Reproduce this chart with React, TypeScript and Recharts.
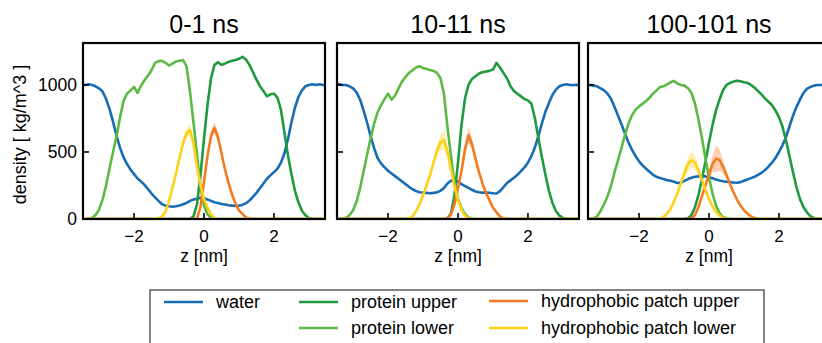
import React from 'react';
import { ComposedChart, Line, Area, XAxis, YAxis } from 'recharts';

// z grid [nm]
const Z = [
  -3.5, -3.4, -3.3, -3.2, -3.1, -3.0, -2.9, -2.8, -2.7, -2.6,
  -2.5, -2.4, -2.3, -2.2, -2.1, -2.0, -1.9, -1.8, -1.7, -1.6,
  -1.5, -1.4, -1.3, -1.2, -1.1, -1.0, -0.9, -0.8, -0.7, -0.6,
  -0.5, -0.4, -0.3, -0.2, -0.1, 0.0, 0.1, 0.2, 0.3, 0.4,
  0.5, 0.6, 0.7, 0.8, 0.9, 1.0, 1.1, 1.2, 1.3, 1.4,
  1.5, 1.6, 1.7, 1.8, 1.9, 2.0, 2.1, 2.2, 2.3, 2.4,
  2.5, 2.6, 2.7, 2.8, 2.9, 3.0, 3.1, 3.2, 3.3, 3.4,
  3.5,
];

// ---- 0-1 ns ----
const P1_WATER = [
  1000, 1000, 1005, 1000, 990, 975, 950, 895, 820, 725,
  620, 530, 460, 410, 368, 335, 302, 280, 255, 222,
  190, 162, 135, 110, 100, 95, 92, 95, 100, 110,
  120, 135, 145, 150, 158, 155, 145, 135, 125, 120,
  112, 108, 102, 100, 98, 100, 105, 118, 138, 165,
  195, 230, 265, 300, 325, 350, 375, 420, 490, 595,
  720, 830, 910, 960, 990, 1000, 1005, 1000, 1005, 1000,
  1000,
];
const P1_UPPER = [
  0, 0, 0, 0, 0, 0, 0, 0, 0, 0,
  0, 0, 0, 0, 0, 0, 0, 0, 0, 0,
  0, 0, 0, 0, 0, 0, 0, 0, 0, 0,
  0, 0, 20, 110, 330, 600, 850, 1050, 1150, 1170,
  1150, 1160, 1172, 1180, 1187, 1195, 1210, 1190, 1150, 1095,
  1040, 990, 955, 915, 930, 935, 905, 815, 645, 475,
  335, 210, 125, 62, 28, 8, 2, 0, 0, 0,
  0,
];
const P1_LOWER = [
  0, 0, 2, 10, 30, 70, 145, 250, 380, 500,
  620, 760, 880, 935, 960, 985, 940, 995, 1035, 1070,
  1110, 1165, 1178, 1180, 1165, 1145, 1160, 1175, 1180, 1185,
  1140, 950, 720, 480, 240, 100, 35, 10, 2, 0,
  0, 0, 0, 0, 0, 0, 0, 0, 0, 0,
  0, 0, 0, 0, 0, 0, 0, 0, 0, 0,
  0, 0, 0, 0, 0, 0, 0, 0, 0, 0,
  0,
];
const P1_HUP = [
  0, 0, 0, 0, 0, 0, 0, 0, 0, 0,
  0, 0, 0, 0, 0, 0, 0, 0, 0, 0,
  0, 0, 0, 0, 0, 0, 0, 0, 0, 0,
  0, 0, 0, 5, 90, 280, 470, 620, 680, 610,
  490, 370, 270, 185, 115, 65, 38, 12, 3, 0,
  0, 0, 0, 0, 0, 0, 0, 0, 0, 0,
  0, 0, 0, 0, 0, 0, 0, 0, 0, 0,
  0,
];
const P1_HUP_SPREAD = [
  0, 0, 0, 0, 0, 0, 0, 0, 0, 0,
  0, 0, 0, 0, 0, 0, 0, 0, 0, 0,
  0, 0, 0, 0, 0, 0, 0, 0, 0, 0,
  0, 0, 0, 0, 8, 15, 25, 35, 45, 35,
  25, 15, 10, 5, 0, 0, 0, 0, 0, 0,
  0, 0, 0, 0, 0, 0, 0, 0, 0, 0,
  0, 0, 0, 0, 0, 0, 0, 0, 0, 0,
  0,
];
const P1_HLOW = [
  0, 0, 0, 0, 0, 0, 0, 0, 0, 0,
  0, 0, 0, 0, 0, 0, 0, 0, 0, 0,
  0, 0, 5, 20, 55, 135, 235, 340, 455, 565,
  640, 665, 560, 390, 250, 150, 85, 35, 8, 0,
  0, 0, 0, 0, 0, 0, 0, 0, 0, 0,
  0, 0, 0, 0, 0, 0, 0, 0, 0, 0,
  0, 0, 0, 0, 0, 0, 0, 0, 0, 0,
  0,
];
const P1_HLOW_SPREAD = [
  0, 0, 0, 0, 0, 0, 0, 0, 0, 0,
  0, 0, 0, 0, 0, 0, 0, 0, 0, 0,
  0, 0, 0, 0, 0, 0, 5, 10, 15, 25,
  35, 40, 30, 15, 8, 0, 0, 0, 0, 0,
  0, 0, 0, 0, 0, 0, 0, 0, 0, 0,
  0, 0, 0, 0, 0, 0, 0, 0, 0, 0,
  0, 0, 0, 0, 0, 0, 0, 0, 0, 0,
  0,
];

// ---- 10-11 ns ----
const P2_WATER = [
  1000, 1005, 1000, 1000, 990, 975, 945, 890, 810, 720,
  620, 530, 455, 415, 385, 360, 340, 320, 300, 280,
  260, 240, 222, 208, 200, 198, 195, 192, 195, 200,
  210, 232, 265, 285, 290, 278, 260, 245, 232, 218,
  205, 200, 197, 198, 196, 192, 190, 208, 238, 268,
  288, 308, 330, 358, 385, 420, 470, 535, 620, 715,
  800, 865, 925, 965, 990, 1000, 1005, 1000, 1000, 1002,
  1000,
];
const P2_UPPER = [
  0, 0, 0, 0, 0, 0, 0, 0, 0, 0,
  0, 0, 0, 0, 0, 0, 0, 0, 0, 0,
  0, 0, 0, 0, 0, 0, 0, 0, 0, 0,
  0, 0, 5, 40, 180, 420, 700, 900, 1000, 1045,
  1065, 1085, 1095, 1100, 1105, 1115, 1165, 1130, 1090, 1050,
  990, 955, 935, 915, 895, 885, 860, 750, 600, 460,
  330, 210, 120, 60, 25, 8, 2, 0, 0, 0,
  0,
];
const P2_LOWER = [
  0, 0, 3, 10, 30, 65, 130, 230, 355, 480,
  600, 710, 795, 850, 895, 935, 890, 920, 975, 1025,
  1060, 1090, 1110, 1130, 1140, 1125, 1120, 1112, 1105, 1090,
  1050, 930, 680, 470, 260, 150, 80, 38, 12, 3,
  0, 0, 0, 0, 0, 0, 0, 0, 0, 0,
  0, 0, 0, 0, 0, 0, 0, 0, 0, 0,
  0, 0, 0, 0, 0, 0, 0, 0, 0, 0,
  0,
];
const P2_HUP = [
  0, 0, 0, 0, 0, 0, 0, 0, 0, 0,
  0, 0, 0, 0, 0, 0, 0, 0, 0, 0,
  0, 0, 0, 0, 0, 0, 0, 0, 0, 0,
  0, 0, 5, 35, 110, 230, 360, 520, 625, 560,
  450, 350, 265, 195, 140, 85, 50, 20, 5, 0,
  0, 0, 0, 0, 0, 0, 0, 0, 0, 0,
  0, 0, 0, 0, 0, 0, 0, 0, 0, 0,
  0,
];
const P2_HUP_SPREAD = [
  0, 0, 0, 0, 0, 0, 0, 0, 0, 0,
  0, 0, 0, 0, 0, 0, 0, 0, 0, 0,
  0, 0, 0, 0, 0, 0, 0, 0, 0, 0,
  0, 0, 0, 5, 10, 15, 30, 45, 60, 40,
  25, 15, 8, 0, 0, 0, 0, 0, 0, 0,
  0, 0, 0, 0, 0, 0, 0, 0, 0, 0,
  0, 0, 0, 0, 0, 0, 0, 0, 0, 0,
  0,
];
const P2_HLOW = [
  0, 0, 0, 0, 0, 0, 0, 0, 0, 0,
  0, 0, 0, 0, 0, 0, 0, 0, 0, 0,
  0, 5, 20, 60, 110, 175, 250, 330, 420, 510,
  570, 590, 500, 370, 245, 140, 70, 25, 5, 0,
  0, 0, 0, 0, 0, 0, 0, 0, 0, 0,
  0, 0, 0, 0, 0, 0, 0, 0, 0, 0,
  0, 0, 0, 0, 0, 0, 0, 0, 0, 0,
  0,
];
const P2_HLOW_SPREAD = [
  0, 0, 0, 0, 0, 0, 0, 0, 0, 0,
  0, 0, 0, 0, 0, 0, 0, 0, 0, 0,
  0, 0, 0, 0, 0, 5, 10, 15, 25, 40,
  60, 70, 45, 25, 10, 0, 0, 0, 0, 0,
  0, 0, 0, 0, 0, 0, 0, 0, 0, 0,
  0, 0, 0, 0, 0, 0, 0, 0, 0, 0,
  0, 0, 0, 0, 0, 0, 0, 0, 0, 0,
  0,
];

// ---- 100-101 ns ----
const P3_WATER = [
  1000, 1000, 995, 990, 975, 960, 935, 895, 835, 770,
  705, 635, 570, 515, 470, 430, 400, 375, 352, 330,
  315, 305, 298, 290, 285, 278, 268, 272, 285, 298,
  308, 315, 318, 320, 318, 310, 305, 295, 288, 282,
  278, 275, 272, 270, 275, 285, 295, 305, 315, 330,
  345, 365, 390, 420, 455, 500, 550, 610, 690, 770,
  835, 890, 940, 970, 985, 995, 1000, 1000, 1002, 1000,
  1000,
];
const P3_UPPER = [
  0, 0, 0, 0, 0, 0, 0, 0, 0, 0,
  0, 0, 0, 0, 0, 0, 0, 0, 0, 0,
  0, 0, 0, 0, 0, 0, 0, 0, 0, 5,
  30, 90, 180, 300, 430, 570, 700, 810, 890, 960,
  1000, 1015, 1025, 1032, 1028, 1020, 1015, 1000, 980, 955,
  930, 900, 875, 850, 810, 760, 690, 590, 470, 350,
  240, 150, 90, 50, 22, 8, 2, 0, 0, 0,
  0,
];
const P3_LOWER = [
  0, 0, 5, 20, 60, 110, 170, 250, 350, 440,
  535, 630, 715, 775, 815, 840, 860, 880, 905, 935,
  960, 985, 990, 1005, 1020, 1030, 1010, 1000, 995, 975,
  940, 860, 740, 600, 450, 310, 190, 100, 45, 15,
  5, 0, 0, 0, 0, 0, 0, 0, 0, 0,
  0, 0, 0, 0, 0, 0, 0, 0, 0, 0,
  0, 0, 0, 0, 0, 0, 0, 0, 0, 0,
  0,
];
const P3_HUP = [
  0, 0, 0, 0, 0, 0, 0, 0, 0, 0,
  0, 0, 0, 0, 0, 0, 0, 0, 0, 0,
  0, 0, 0, 0, 0, 0, 0, 0, 0, 0,
  5, 30, 90, 170, 250, 330, 410, 450, 440, 390,
  330, 260, 200, 145, 100, 65, 40, 20, 8, 0,
  0, 0, 0, 0, 0, 0, 0, 0, 0, 0,
  0, 0, 0, 0, 0, 0, 0, 0, 0, 0,
  0,
];
const P3_HUP_SPREAD = [
  0, 0, 0, 0, 0, 0, 0, 0, 0, 0,
  0, 0, 0, 0, 0, 0, 0, 0, 0, 0,
  0, 0, 0, 0, 0, 0, 0, 0, 0, 0,
  0, 5, 10, 15, 20, 35, 60, 100, 80, 50,
  30, 15, 8, 0, 0, 0, 0, 0, 0, 0,
  0, 0, 0, 0, 0, 0, 0, 0, 0, 0,
  0, 0, 0, 0, 0, 0, 0, 0, 0, 0,
  0,
];
const P3_HLOW = [
  0, 0, 0, 0, 0, 0, 0, 0, 0, 0,
  0, 0, 0, 0, 0, 0, 0, 0, 0, 0,
  0, 3, 15, 40, 75, 130, 195, 270, 345, 410,
  440, 420, 360, 290, 215, 150, 95, 55, 25, 10,
  0, 0, 0, 0, 0, 0, 0, 0, 0, 0,
  0, 0, 0, 0, 0, 0, 0, 0, 0, 0,
  0, 0, 0, 0, 0, 0, 0, 0, 0, 0,
  0,
];
const P3_HLOW_SPREAD = [
  0, 0, 0, 0, 0, 0, 0, 0, 0, 0,
  0, 0, 0, 0, 0, 0, 0, 0, 0, 0,
  0, 0, 0, 0, 0, 0, 10, 20, 35, 55,
  60, 50, 30, 15, 8, 0, 0, 0, 0, 0,
  0, 0, 0, 0, 0, 0, 0, 0, 0, 0,
  0, 0, 0, 0, 0, 0, 0, 0, 0, 0,
  0, 0, 0, 0, 0, 0, 0, 0, 0, 0,
  0,
];

const TITLES = ['0-1 ns', '10-11 ns', '100-101 ns'];
const X_TICKS = [-2, 0, 2];
const Y_TICKS = [0, 500, 1000];
const X_LABEL = 'z [nm]';
const Y_LABEL = 'density [ kg/m^3 ]';

const SERIES = [
  { key: 'water', name: 'water', color: '#176db4' },
  { key: 'upper', name: 'protein upper', color: '#1f9a3e' },
  { key: 'lower', name: 'protein lower', color: '#5cba44' },
  { key: 'hup', name: 'hydrophobic patch upper', color: '#f47b20' },
  { key: 'hlow', name: 'hydrophobic patch lower', color: '#fcd116' },
];

const PANEL_DATA = [
  { water: P1_WATER, upper: P1_UPPER, lower: P1_LOWER, hup: P1_HUP, hlow: P1_HLOW, hupS: P1_HUP_SPREAD, hlowS: P1_HLOW_SPREAD },
  { water: P2_WATER, upper: P2_UPPER, lower: P2_LOWER, hup: P2_HUP, hlow: P2_HLOW, hupS: P2_HUP_SPREAD, hlowS: P2_HLOW_SPREAD },
  { water: P3_WATER, upper: P3_UPPER, lower: P3_LOWER, hup: P3_HUP, hlow: P3_HLOW, hupS: P3_HUP_SPREAD, hlowS: P3_HLOW_SPREAD },
];

const FONT = '"Liberation Sans", Arial, Helvetica, sans-serif';
const PANEL_LEFTS = [83, 337, 588];
const PLOT_W = 242;
const PLOT_H = 176;
const PLOT_TOP = 43;
const AXIS_W = 70;
const RIGHT_PAD = 10;
const XAXIS_H = 51;
const X_DOMAIN: [number, number] = [-3.46, 3.46];
const Y_DOMAIN: [number, number] = [0, 1313];

function fmt(v: number) {
  return v < 0 ? '\u2212' + Math.abs(v) : String(v);
}

function XTick(props: any) {
  const { x, y, payload } = props;
  return (
    <g>
      <line x1={x} y1={y} x2={x} y2={y - 6} stroke="#000" strokeWidth={1.6} />
      <text x={x} y={y + 22.5} textAnchor="middle" fontSize={17} fontFamily={FONT} fill="#000">
        {fmt(payload.value)}
      </text>
    </g>
  );
}

function makeYTick(showLabel: boolean) {
  return function YTick(props: any) {
    const { x, y, payload } = props;
    return (
      <g>
        <line x1={x} y1={y} x2={x + 6} y2={y} stroke="#000" strokeWidth={1.6} />
        {showLabel ? (
          <text x={x - 6} y={y + 6.3} textAnchor="end" fontSize={17.5} fontFamily={FONT} fill="#000">
            {fmt(payload.value)}
          </text>
        ) : null}
      </g>
    );
  };
}

function Panel({ idx }: { idx: number }) {
  const d: any = PANEL_DATA[idx];
  const rows = Z.map((z, i) => ({
    z,
    water: d.water[i],
    upper: d.upper[i],
    lower: d.lower[i],
    hup: d.hup[i],
    hlow: d.hlow[i],
    hupBand: [Math.max(0, d.hup[i] - d.hupS[i]), d.hup[i] + d.hupS[i]],
    hlowBand: [Math.max(0, d.hlow[i] - d.hlowS[i]), d.hlow[i] + d.hlowS[i]],
  }));
  const YT = makeYTick(idx === 0);
  return (
    <div style={{ position: 'absolute', left: PANEL_LEFTS[idx] - AXIS_W, top: 0 }}>
      <ComposedChart
        width={AXIS_W + PLOT_W + RIGHT_PAD}
        height={PLOT_TOP + PLOT_H + XAXIS_H}
        data={rows}
        margin={{ top: PLOT_TOP, right: RIGHT_PAD, bottom: 0, left: 0 }}
      >
        <XAxis
          dataKey="z"
          type="number"
          domain={X_DOMAIN}
          ticks={X_TICKS}
          interval={0}
          height={XAXIS_H}
          axisLine={false}
          tickLine={false}
          tickSize={0}
          tickMargin={0}
          tick={(p: any) => <XTick {...p} />}
          allowDataOverflow
        />
        <YAxis
          type="number"
          domain={Y_DOMAIN}
          ticks={Y_TICKS}
          interval={0}
          width={AXIS_W}
          axisLine={false}
          tickLine={false}
          tickSize={0}
          tickMargin={0}
          tick={(p: any) => <YT {...p} />}
          allowDataOverflow
        />
        <Area
          dataKey="hupBand"
          stroke="none"
          fill={SERIES[3].color}
          fillOpacity={0.35}
          isAnimationActive={false}
          activeDot={false}
        />
        <Area
          dataKey="hlowBand"
          stroke="none"
          fill={SERIES[4].color}
          fillOpacity={0.35}
          isAnimationActive={false}
          activeDot={false}
        />
        {SERIES.map((s) => (
          <Line
            key={s.key}
            dataKey={s.key}
            stroke={s.color}
            strokeWidth={2.6}
            dot={false}
            activeDot={false}
            isAnimationActive={false}
            strokeLinejoin="round"
          />
        ))}
      </ComposedChart>
    </div>
  );
}

const LEGEND_POS = [
  { x: 164, y: 302 },
  { x: 299, y: 302 },
  { x: 299, y: 328 },
  { x: 489, y: 301 },
  { x: 489, y: 328 },
];

export default function App() {
  return (
    <div
      style={{
        position: 'absolute',
        left: 0,
        top: 0,
        width: 822,
        height: 343,
        overflow: 'hidden',
        background: '#fff',
      }}
    >
      {TITLES.map((_, i) => (
        <Panel key={i} idx={i} />
      ))}
      <svg
        width={822}
        height={343}
        style={{ position: 'absolute', left: 0, top: 0, pointerEvents: 'none' }}
      >
        {PANEL_LEFTS.map((l, i) => (
          <g key={i}>
            <rect x={l} y={PLOT_TOP} width={PLOT_W} height={PLOT_H} fill="none" stroke="#000" strokeWidth={2.2} />
            <text x={l + PLOT_W / 2} y={33} textAnchor="middle" fontSize={25} fontFamily={FONT} fill="#000">
              {TITLES[i]}
            </text>
            <text x={l + PLOT_W / 2} y={261.5} textAnchor="middle" fontSize={17.5} fontFamily={FONT} fill="#000">
              {X_LABEL}
            </text>
          </g>
        ))}
        <text
          x={25.5}
          y={134.5}
          textAnchor="middle"
          fontSize={18}
          fontFamily={FONT}
          fill="#000"
          transform="rotate(-90 25.5 134.5)"
        >
          {Y_LABEL}
        </text>
        <rect x={150} y={290} width={614} height={70} fill="none" stroke="#444" strokeWidth={1.3} />
        {SERIES.map((s, i) => (
          <g key={s.key}>
            <line
              x1={LEGEND_POS[i].x}
              y1={LEGEND_POS[i].y}
              x2={LEGEND_POS[i].x + 39}
              y2={LEGEND_POS[i].y}
              stroke={s.color}
              strokeWidth={2.6}
            />
            <text
              x={LEGEND_POS[i].x + 52}
              y={LEGEND_POS[i].y + 6}
              fontSize={18}
              fontFamily={FONT}
              fill="#000"
            >
              {s.name}
            </text>
          </g>
        ))}
      </svg>
    </div>
  );
}
